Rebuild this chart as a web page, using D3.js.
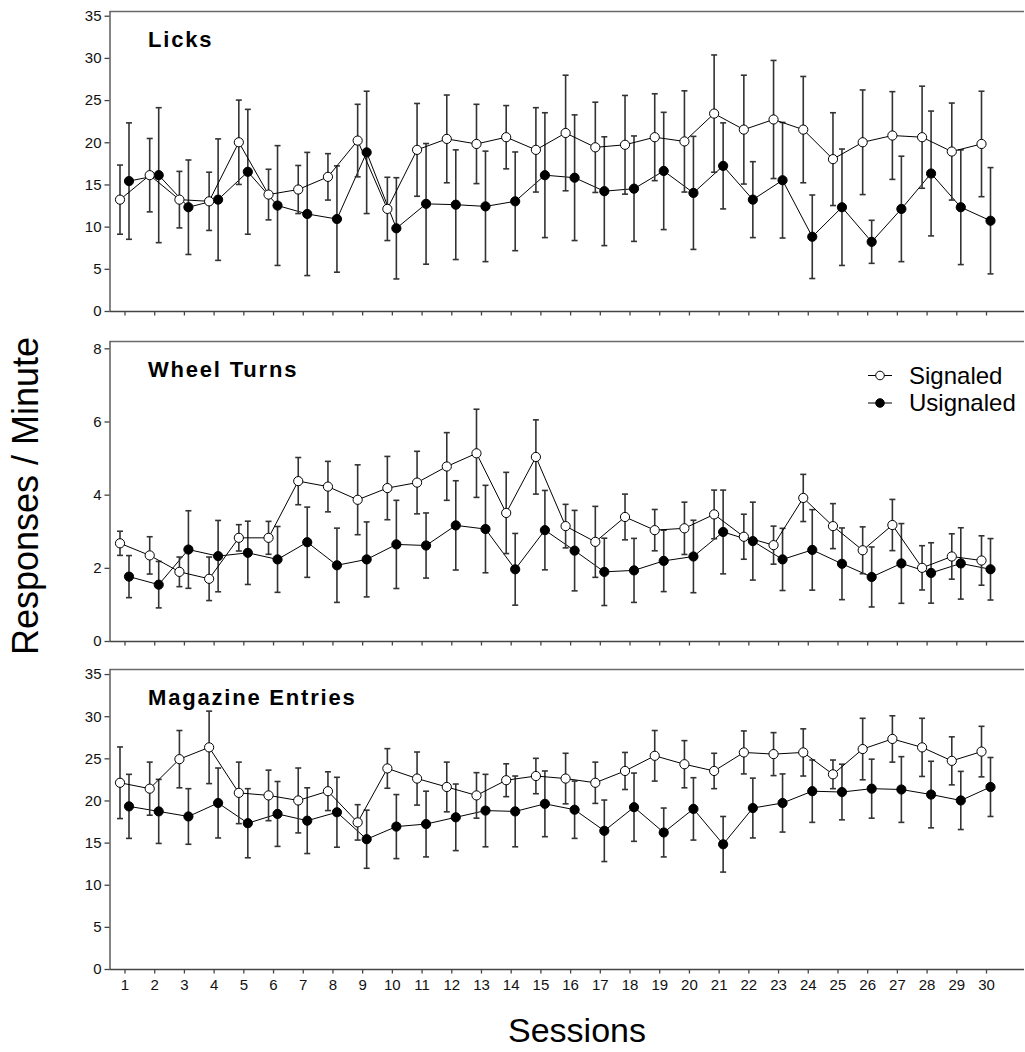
<!DOCTYPE html>
<html>
<head>
<meta charset="utf-8">
<script src="https://cdn.jsdelivr.net/npm/d3@7"></script>
<style>
  body { margin: 0; background: #fff; }
  text { font-family: "Liberation Sans", Arial, sans-serif; }
</style>
</head>
<body>
<div class="chart"></div>
<script>
// ---- data (means and SEM) ----
const sessions = [1,2,3,4,5,6,7,8,9,10,11,12,13,14,15,16,17,18,19,20,21,22,23,24,25,26,27,28,29,30];

const lickSig    = [13.2,16.1,13.2,13.0,20.0,13.8,14.4,15.9,20.2,12.1,19.1,20.4,19.8,20.6,19.1,21.1,19.4,19.7,20.6,20.1,23.4,21.5,22.7,21.5,18.0,20.0,20.8,20.6,18.9,19.8];
const lickSigSem = [4.1,4.35,3.35,3.45,5.0,3.0,2.85,2.75,4.3,3.75,5.5,5.2,4.7,3.75,5.0,6.85,5.35,5.85,5.15,6.0,6.95,6.45,7.0,6.3,5.5,6.2,5.2,6.05,5.75,6.25];
const lickUns    = [15.4,16.1,12.3,13.2,16.5,12.5,11.5,10.9,18.8,9.8,12.7,12.6,12.4,13.0,16.1,15.8,14.2,14.5,16.6,14.0,17.2,13.2,15.5,8.8,12.3,8.2,12.1,16.3,12.3,10.7];
const lickUnsSem = [6.9,8.0,5.6,7.2,7.4,7.1,7.3,6.3,7.25,6.0,7.15,6.5,6.55,5.85,7.4,7.45,6.45,6.25,6.95,6.7,5.1,4.5,6.85,4.95,6.9,2.55,6.25,7.4,6.8,6.3];

const wheelSig    = [2.67,2.34,1.89,1.70,2.82,2.82,4.37,4.22,3.86,4.18,4.33,4.77,5.13,3.50,5.03,3.14,2.71,3.39,3.03,3.08,3.46,2.85,2.62,3.91,3.14,2.48,3.17,2.00,2.31,2.20];
const wheelSigSem = [0.33,0.51,0.405,0.595,0.36,0.45,0.645,0.69,0.955,0.865,0.855,0.925,1.205,1.11,1.015,0.595,0.97,0.625,0.565,0.715,0.665,0.615,0.52,0.645,0.615,0.64,0.70,0.605,0.62,0.675];
const wheelUns    = [1.76,1.54,2.50,2.32,2.41,2.23,2.70,2.07,2.23,2.64,2.61,3.16,3.06,1.96,3.03,2.47,1.89,1.93,2.19,2.31,2.98,2.73,2.23,2.49,2.11,1.75,2.12,1.86,2.12,1.96];
const wheelUnsSem = [0.575,0.635,1.06,0.975,0.865,0.9,0.96,1.015,1.025,1.205,0.89,1.22,1.195,0.98,1.085,1.1,0.92,0.875,0.84,0.99,1.145,1.065,0.85,1.1,0.98,0.82,1.09,0.825,0.975,0.84];

const magSig    = [22.1,21.4,24.9,26.3,20.9,20.6,20.0,21.1,17.4,23.8,22.6,21.6,20.6,22.4,22.9,22.6,22.1,23.5,25.3,24.3,23.5,25.7,25.5,25.7,23.1,26.1,27.3,26.3,24.7,25.8];
const magSigSem = [4.25,3.15,3.4,4.3,3.65,3.0,3.85,2.3,2.1,2.35,3.15,2.95,2.7,1.95,2.1,3.0,2.45,2.2,3.0,2.8,2.1,2.55,2.55,2.8,1.7,3.65,2.75,3.45,2.85,3.0];
const magUns    = [19.3,18.7,18.1,19.7,17.3,18.4,17.6,18.6,15.4,16.9,17.2,18.0,18.8,18.7,19.6,18.9,16.4,19.2,16.2,19.0,14.8,19.1,19.7,21.1,21.0,21.4,21.3,20.7,20.0,21.6];
const magUnsSem = [3.8,3.8,3.3,4.15,4.1,3.85,3.9,4.15,3.45,3.8,3.9,3.95,4.3,4.2,3.9,3.4,3.65,4.05,2.9,3.7,3.3,3.55,3.45,3.7,3.3,3.5,3.9,3.95,3.45,3.5];

const licksTicks = [0,5,10,15,20,25,30,35];
const wheelTicks = [0,2,4,6,8];
const magTicks   = [0,5,10,15,20,25,30,35];

const legendLabels = ["Signaled", "Usignaled"];

// ---- layout ----
const W = 1025, H = 1052;
const axisX = 109.5, rightX = 1024;
const panelH = 300;

const svg = d3.select(".chart")
    .append("svg")
    .attr("width", W)
    .attr("height", H);

const xScale = d3.scaleLinear()
    .domain([1, 30])
    .range([124.5, 986]);

const panels = [
    { title: "Licks", top: 11, max: 35.56, ticks: licksTicks,
      sig: lickSig, sigSem: lickSigSem, uns: lickUns, unsSem: lickUnsSem, labels: false },
    { title: "Wheel Turns", top: 341, max: 8.2, ticks: wheelTicks,
      sig: wheelSig, sigSem: wheelSigSem, uns: wheelUns, unsSem: wheelUnsSem, labels: false },
    { title: "Magazine Entries", top: 669, max: 35.6, ticks: magTicks,
      sig: magSig, sigSem: magSigSem, uns: magUns, unsSem: magUnsSem, labels: true }
];

panels.forEach(drawPanel);

function drawPanel(p){
    const g = svg.append("g");
    const yScale = d3.scaleLinear()
        .domain([0, p.max])
        .range([p.top + panelH, p.top]);

    // frame: top line and bottom axis line
    g.append("line")
        .attr("x1", axisX).attr("x2", rightX)
        .attr("y1", p.top + 0.5).attr("y2", p.top + 0.5)
        .attr("stroke", "#6a6a6a").attr("stroke-width", 1.3);
    g.append("line")
        .attr("x1", axisX).attr("x2", rightX)
        .attr("y1", p.top + panelH + 0.5).attr("y2", p.top + panelH + 0.5)
        .attr("stroke", "#444").attr("stroke-width", 1.3);

    // x ticks
    const xAxis = d3.axisBottom(xScale)
        .tickValues(sessions)
        .tickSize(4)
        .tickSizeOuter(0)
        .tickPadding(6)
        .tickFormat(p.labels ? d3.format("d") : "");
    const xg = g.append("g")
        .attr("transform", `translate(0,${p.top + panelH + 0.5})`)
        .call(xAxis);
    xg.select(".domain").remove();
    xg.selectAll(".tick line").attr("stroke", "#444").attr("stroke-width", 1.3);
    xg.selectAll(".tick text").attr("font-size", 15).attr("fill", "#111")
        .attr("font-family", "'Liberation Sans', Arial, sans-serif");

    // y axis
    const yAxis = d3.axisLeft(yScale)
        .tickValues(p.ticks)
        .tickSize(5)
        .tickSizeOuter(0)
        .tickPadding(3);
    const yg = g.append("g")
        .attr("transform", `translate(${axisX},0)`)
        .call(yAxis);
    yg.select(".domain").attr("stroke", "#444").attr("stroke-width", 1.3);
    yg.selectAll(".tick line").attr("stroke", "#444").attr("stroke-width", 1.3);
    yg.selectAll(".tick text").attr("font-size", 15).attr("fill", "#111")
        .attr("font-family", "'Liberation Sans', Arial, sans-serif");

    // title
    g.append("text")
        .attr("x", 148)
        .attr("y", p.top + 36)
        .attr("font-size", 22)
        .attr("font-weight", "bold")
        .attr("letter-spacing", 1.8)
        .text(p.title);

    const series = [
        { vals: p.uns, sem: p.unsSem, dx: 4.5, fill: "#000" },
        { vals: p.sig, sem: p.sigSem, dx: -4.5, fill: "#fff" }
    ];

    series.forEach(s => {
        const data = sessions.map((d, i) => ({ x: d, m: s.vals[i], e: s.sem[i] }));
        const px = d => xScale(d.x) + s.dx;

        // error bars
        const eb = g.append("g").attr("stroke", "#333").attr("stroke-width", 1.6);
        eb.selectAll(".bar")
            .data(data)
            .join("line")
            .attr("x1", px).attr("x2", px)
            .attr("y1", d => yScale(d.m - d.e))
            .attr("y2", d => yScale(d.m + d.e));
        eb.selectAll(".capTop")
            .data(data)
            .join("line")
            .attr("x1", d => px(d) - 3).attr("x2", d => px(d) + 3)
            .attr("y1", d => yScale(d.m + d.e)).attr("y2", d => yScale(d.m + d.e));
        eb.selectAll(".capBot")
            .data(data)
            .join("line")
            .attr("x1", d => px(d) - 3).attr("x2", d => px(d) + 3)
            .attr("y1", d => yScale(d.m - d.e)).attr("y2", d => yScale(d.m - d.e));

        // line
        const line = d3.line().x(px).y(d => yScale(d.m));
        g.append("path")
            .datum(data)
            .attr("fill", "none")
            .attr("stroke", "#000")
            .attr("stroke-width", 1)
            .attr("d", line);

        // markers
        g.selectAll(null)
            .data(data)
            .join("circle")
            .attr("cx", px)
            .attr("cy", d => yScale(d.m))
            .attr("r", 4.6)
            .attr("fill", s.fill)
            .attr("stroke", "#000")
            .attr("stroke-width", 1);
    });
}

// legend (in the Wheel Turns panel)
const legend = svg.append("g");
legendLabels.forEach((lab, i) => {
    const y = 375.5 + i * 27.5;
    legend.append("line")
        .attr("x1", 868).attr("x2", 892)
        .attr("y1", y).attr("y2", y)
        .attr("stroke", "#000").attr("stroke-width", 1);
    legend.append("circle")
        .attr("cx", 880).attr("cy", y)
        .attr("r", 4.3)
        .attr("fill", i === 0 ? "#fff" : "#000")
        .attr("stroke", "#000");
    legend.append("text")
        .attr("x", 909)
        .attr("y", y + 8)
        .attr("font-size", 24)
        .text(lab);
});

// axis titles
svg.append("text")
    .attr("transform", "translate(38,496) rotate(-90)")
    .attr("text-anchor", "middle")
    .attr("font-size", 36)
    .text("Responses / Minute");

svg.append("text")
    .attr("x", 577)
    .attr("y", 1042)
    .attr("text-anchor", "middle")
    .attr("font-size", 34)
    .text("Sessions");
</script>
</body>
</html>
